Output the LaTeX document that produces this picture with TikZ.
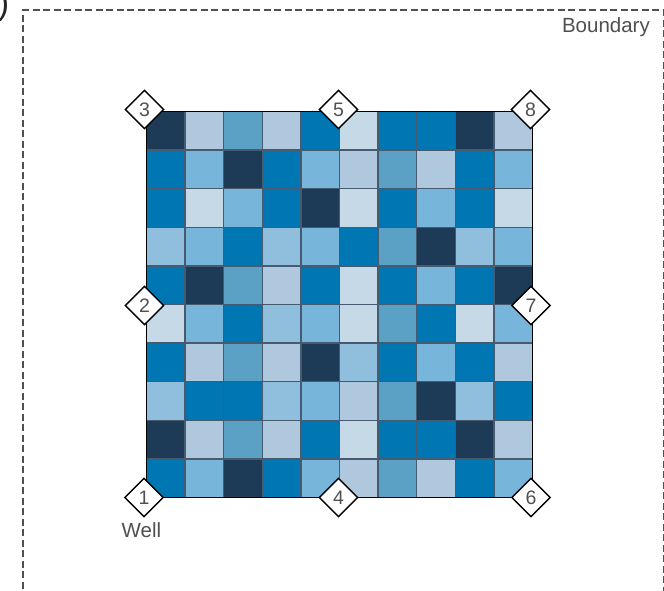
\documentclass[tikz,border=0pt]{standalone}
\usepackage{fontspec}
\setmainfont{Liberation Sans}
\usetikzlibrary{shapes.geometric}
\definecolor{cD}{HTML}{1D3A57}
\definecolor{cB}{HTML}{0077B2}
\definecolor{cM}{HTML}{5BA1C6}
\definecolor{cL}{HTML}{78B5DA}
\definecolor{cQ}{HTML}{8FBFDC}
\definecolor{cP}{HTML}{B0C8DD}
\definecolor{cV}{HTML}{C6D9E6}
\definecolor{cellline}{HTML}{465B70}
\definecolor{txtgray}{HTML}{505050}
\tikzset{
  dia/.style={diamond, aspect=1, draw=black, line width=1.4pt, fill=white,
    minimum width=39pt, minimum height=39pt, inner sep=0pt,
    text=txtgray, font=\fontsize{19.5}{19.5}\selectfont},
  lbl/.style={inner sep=0pt, text=txtgray, font=\fontsize{20.5}{24}\selectfont},
  cellbox/.style={draw=cellline, line width=1.3pt},
  bound/.style={draw=txtgray, line width=1.6pt, dash pattern=on 7pt off 3.5pt}
}
\begin{document}
\begin{tikzpicture}[x=1pt,y=-1pt]
\useasboundingbox (0,0) rectangle (664,590);
\clip (0,0) rectangle (664,590);
\fill[white] (0,0) rectangle (664,590);
% boundary
\draw[bound] (23,620) -- (23,10) -- (663.5,10) -- (663.5,620);
\node[lbl, anchor=base east] (boundary) at (650,32) {Boundary};
\node[inner sep=0pt, anchor=base east, text=black!85, font=\fontsize{34}{34}\selectfont] (paren) at (9.5,14) {)};
% grid
\def\gx{146.5}\def\gy{111.5}\def\gs{38.6}
\foreach \row [count=\r from 0] in {
  {D,P,M,P,B,V,B,B,D,P},
  {B,L,D,B,L,P,M,P,B,L},
  {B,V,L,B,D,V,B,L,B,V},
  {Q,L,B,Q,L,B,M,D,Q,L},
  {B,D,M,P,B,V,B,L,B,D},
  {V,L,B,Q,L,V,M,B,V,L},
  {B,P,M,P,D,Q,B,L,B,P},
  {Q,B,B,Q,L,P,M,D,Q,B},
  {D,P,M,P,B,V,B,B,D,P},
  {B,L,D,B,L,P,M,P,B,L}} {
  \foreach \c [count=\k from 0] in \row {
    \filldraw[cellbox, fill=c\c] ({\gx+\k*\gs},{\gy+\r*\gs}) rectangle +(\gs,\gs);
  }
}
\draw[black, line width=1.6pt] (\gx,\gy) rectangle ({\gx+10*\gs},{\gy+10*\gs});
% diamonds
\node[dia] (d3) at (144.5,109.5) {3};
\node[dia] (d5) at (338.5,109.5) {5};
\node[dia] (d8) at (530.5,109.5) {8};
\node[dia] (d2) at (144.5,305.5) {2};
\node[dia] (d7) at (531,305.5) {7};
\node[dia] (d1) at (144,497.5) {1};
\node[dia] (d4) at (338.5,497.5) {4};
\node[dia] (d6) at (531,497.5) {6};
\node[lbl, anchor=base west] (well) at (121.5,537) {Well};
\end{tikzpicture}
\end{document}
